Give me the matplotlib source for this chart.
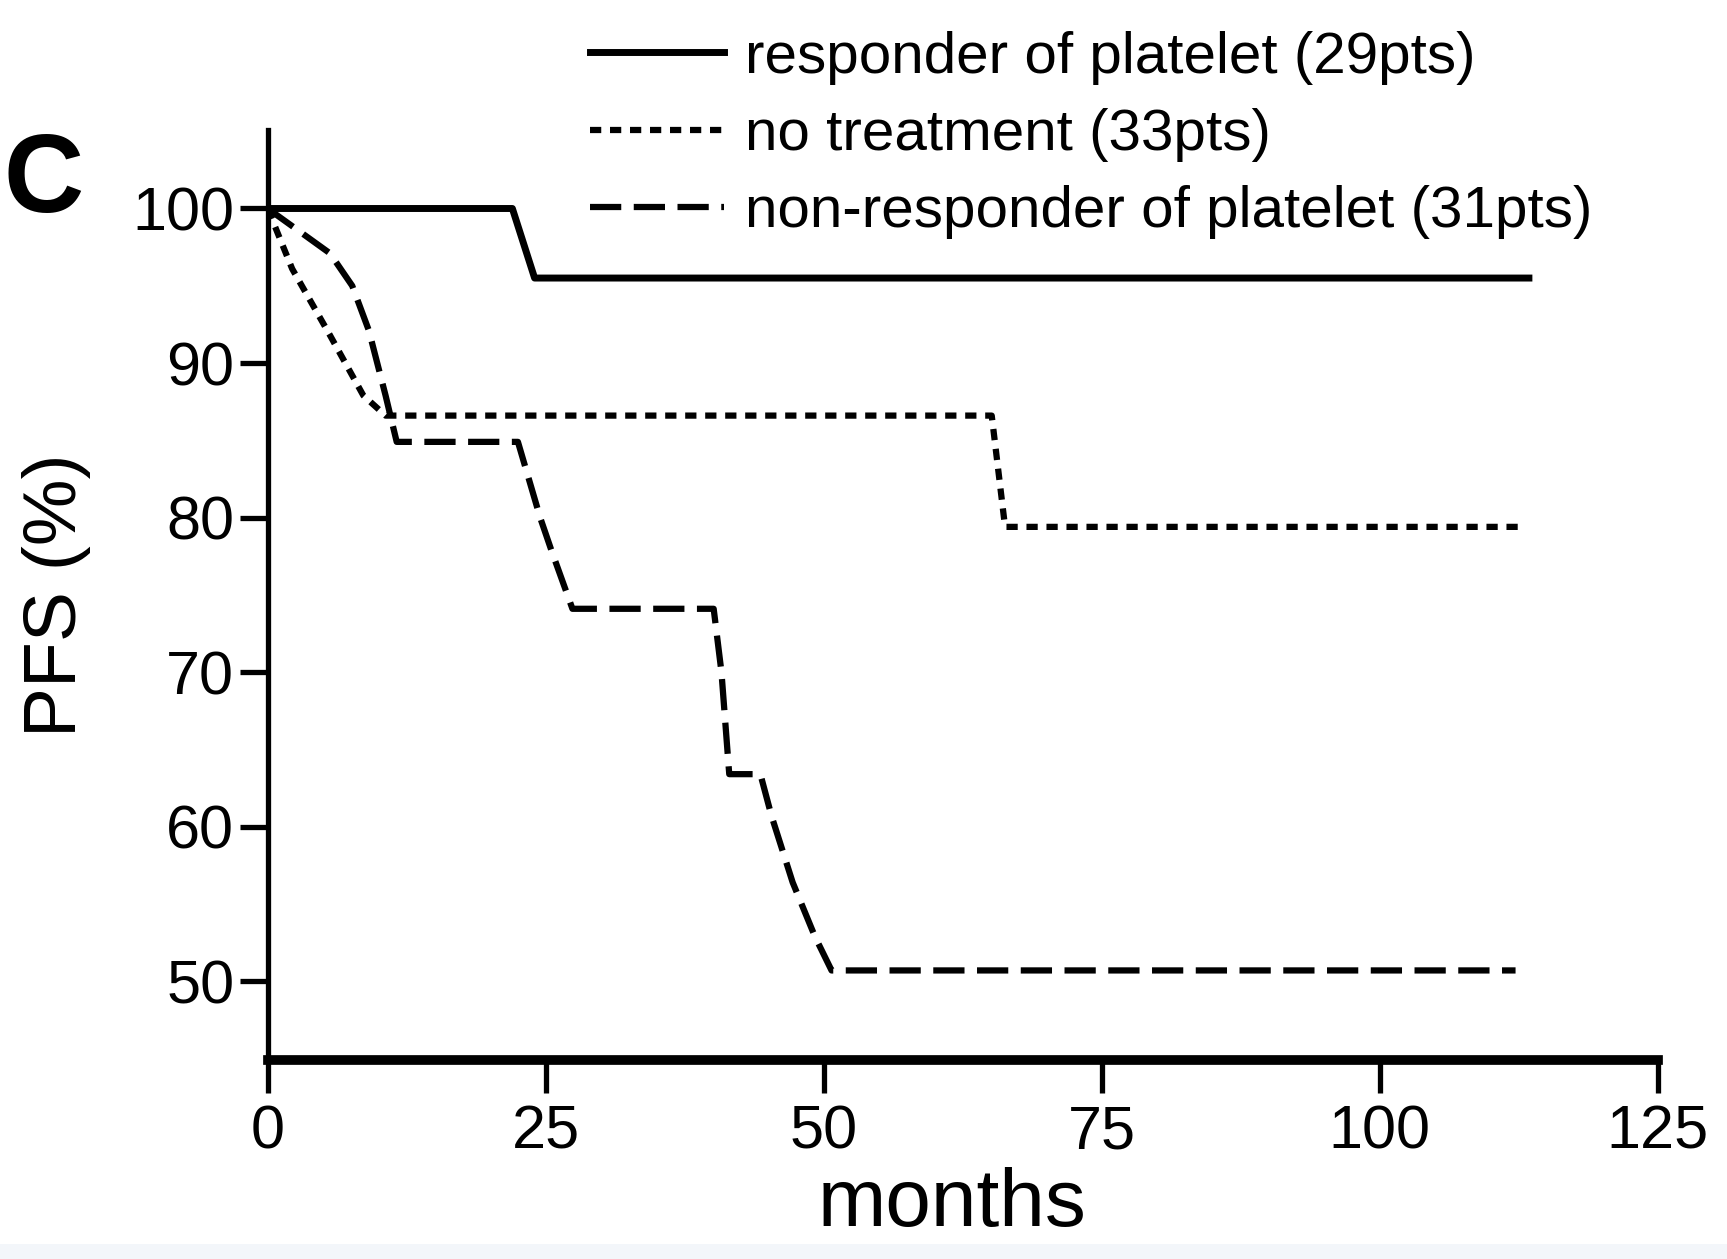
import matplotlib
matplotlib.use("Agg")
import matplotlib.pyplot as plt
from matplotlib.patches import Rectangle

plt.rcParams['font.family'] = ['Liberation Sans', 'DejaVu Sans']

# PFS curves (months, %)
resp_x = [0, 22, 24, 113.4]
resp_y = [100, 100, 95.5, 95.5]

notr_x = [0, 2.2, 5.6, 8.6, 10.6, 65.1, 66.3, 112.6]
notr_y = [100, 96.1, 91.8, 87.9, 86.6, 86.6, 79.4, 79.4]

nonr_x = [0, 5.6, 7.6, 9.1, 10.6, 11.6, 22.5, 24.5, 25.5, 27.4, 40.1, 40.8, 41.5,
          44.3, 45.3, 47.2, 49.2, 50.7, 112.2]
nonr_y = [100, 97.1, 95.0, 92.1, 87.9, 84.9, 84.9, 80.0, 77.9, 74.1, 74.1, 70.0, 63.4,
          63.4, 60.7, 56.4, 52.9, 50.7, 50.7]

labels = ['responder of platelet (29pts)', 'no treatment (33pts)',
          'non-responder of platelet (31pts)']
xticks = [0, 25, 50, 75, 100, 125]
yticks = [50, 60, 70, 80, 90, 100]

fig = plt.figure(figsize=(17.27, 12.59), dpi=100)
ax = fig.add_axes([0.155, 0.158, 0.805, 0.739])

ax.plot(resp_x, resp_y, color='black', lw=5, label=labels[0])
ax.plot(notr_x, notr_y, color='black', lw=4.5, dashes=(1.8, 1.4), label=labels[1])
ax.plot(nonr_x, nonr_y, color='black', lw=4.5, dashes=(5, 2), label=labels[2])

ax.set_xlim(0, 125)
ax.set_ylim(44.9, 105.1)
ax.set_xticks(xticks)
ax.set_yticks(yticks)
ax.spines['top'].set_visible(False)
ax.spines['right'].set_visible(False)
ax.spines['left'].set_linewidth(3.8)
ax.spines['bottom'].set_linewidth(7)
ax.tick_params(axis='y', length=20, width=3.8, labelsize=44, pad=4)
ax.tick_params(axis='x', length=24, width=3.8, labelsize=44, pad=8)

ax.set_xlabel('months', fontsize=59)
ax.xaxis.set_label_coords(0.492, -0.115)
ax.set_ylabel('PFS (%)', fontsize=54, labelpad=30)

fig.text(0.002, 0.855, 'C', fontsize=80, fontweight='bold', ha='left', va='center')

fig.legend(loc='upper left', bbox_to_anchor=(0.318, 1.008), frameon=False,
           fontsize=42, handlelength=2.3, handletextpad=0.35, labelspacing=0.4,
           borderpad=0.2)

fig.patches.append(Rectangle((0, 0), 1, 0.012, transform=fig.transFigure,
                             facecolor='#f3f6fa', edgecolor='none'))

fig.savefig('out.png', dpi=100)
